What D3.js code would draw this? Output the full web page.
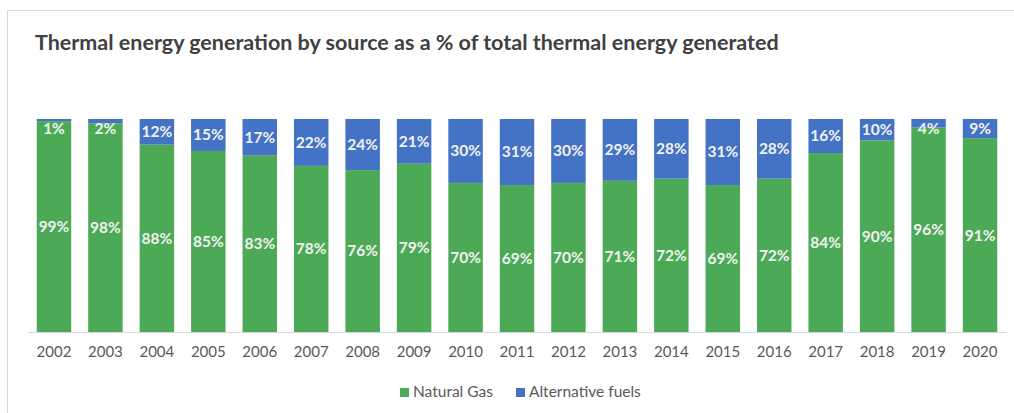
<!DOCTYPE html>
<html>
<head>
<meta charset="utf-8">
<script src="https://cdn.jsdelivr.net/npm/d3@7"></script>
<style>
  body { margin: 0; background: #fff; }
  svg { display: block; font-family: Lato, "Open Sans", sans-serif; }
</style>
</head>
<body>
<div id="chart"></div>
<script>
// data
const years = ['2002','2003','2004','2005','2006','2007','2008','2009','2010','2011',
               '2012','2013','2014','2015','2016','2017','2018','2019','2020'];
const naturalGas = [99, 98, 88, 85, 83, 78, 76, 79, 70, 69, 70, 71, 72, 69, 72, 84, 90, 96, 91];
const altFuels   = [1, 2, 12, 15, 17, 22, 24, 21, 30, 31, 30, 29, 28, 31, 28, 16, 10, 4, 9];
const seriesNames = ['Natural Gas', 'Alternative fuels'];
const colors = ['#4caa57', '#4472c4'];

const width = 1014, height = 413;
const plot = { left: 28, right: 1006, top: 119, bottom: 332 };

const svg = d3.select('#chart').append('svg')
  .attr('width', width)
  .attr('height', height);

// chart frame (only left + top edges show in the photo)
svg.append('path')
  .attr('d', `M7.5,${height} V10.5 H${width}`)
  .attr('fill', 'none')
  .attr('stroke', '#d9d9d9');

svg.append('text')
  .attr('x', 35)
  .attr('y', 50)
  .attr('fill', '#404040')
  .attr('font-size', 21.5)
  .attr('font-weight', 'bold')
  .text('Thermal energy generation by source as a % of total thermal energy generated');

const rows = years.map((y, i) => ({ year: y, gas: naturalGas[i], alt: altFuels[i] }));
const stack = d3.stack().keys(['gas', 'alt'])(rows);

const x = d3.scaleBand()
  .domain(years)
  .range([plot.left, plot.right])
  .paddingInner(0.33)
  .paddingOuter(0.17);

const y = d3.scaleLinear()
  .domain([0, 100])
  .range([plot.bottom, plot.top]);

const layers = svg.append('g').selectAll('g')
  .data(stack)
  .join('g')
  .attr('fill', (d, i) => colors[i]);

layers.selectAll('rect')
  .data(d => d)
  .join('rect')
  .attr('x', d => x(d.data.year))
  .attr('y', d => y(d[1]))
  .attr('width', x.bandwidth())
  .attr('height', d => y(d[0]) - y(d[1]));

// value labels
layers.selectAll('text')
  .data(d => d)
  .join('text')
  .attr('x', d => x(d.data.year) + x.bandwidth() / 2)
  .attr('y', d => Math.max((y(d[0]) + y(d[1])) / 2, plot.top + 10))
  .attr('dy', '0.35em')
  .attr('text-anchor', 'middle')
  .attr('fill', '#f2f2f2')
  .attr('font-size', 15.5)
  .attr('font-weight', 'bold')
  .text(d => (d[1] - d[0]) + '%');

// x axis
const xAxis = svg.append('g')
  .attr('transform', `translate(0,${plot.bottom})`)
  .call(d3.axisBottom(x).tickSize(0).tickPadding(14));
xAxis.select('.domain').attr('stroke', '#d9d9d9');
xAxis.selectAll('text')
  .attr('fill', '#595959')
  .attr('font-size', 15)
  .attr('font-family', 'Lato, "Open Sans", sans-serif');

// legend
const legendX = [400, 516];
const legend = svg.append('g').selectAll('g')
  .data(seriesNames)
  .join('g')
  .attr('transform', (d, i) => `translate(${legendX[i]},392)`);
legend.append('rect')
  .attr('x', 0).attr('y', -4)
  .attr('width', 9).attr('height', 9)
  .attr('fill', (d, i) => colors[i]);
legend.append('text')
  .attr('x', 13)
  .attr('dy', '0.35em')
  .attr('fill', '#595959')
  .attr('font-size', 15.5)
  .text(d => d);
</script>
</body>
</html>
